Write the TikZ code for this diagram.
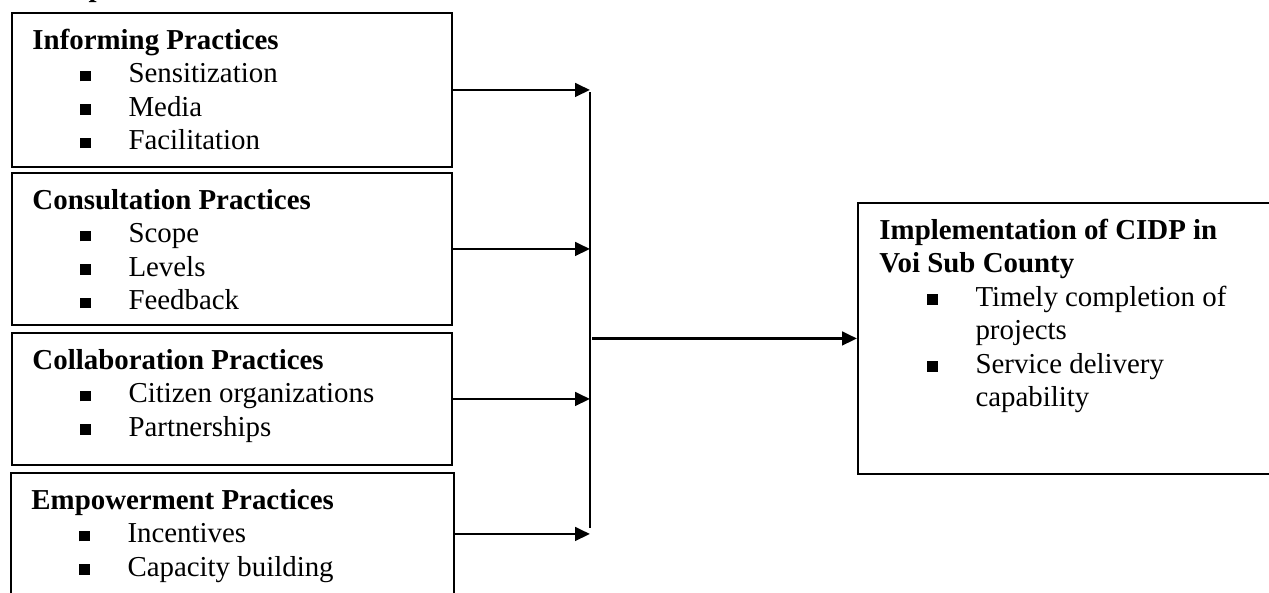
\documentclass[tikz,border=0pt]{standalone}
\usepackage{fontspec}
\setmainfont{Liberation Serif}
\usetikzlibrary{arrows.meta}

\newcommand{\itm}{\makebox[39.9pt][l]{\hspace*{19.9pt}\raisebox{0.6pt}{\rule{4.3pt}{4.3pt}}}}
\newcommand{\cont}{\hspace*{39.9pt}}

\begin{document}
\begin{tikzpicture}[x=0.0146cm, y=-0.0146cm,
  pbox/.style={draw=black, line width=0.8pt, inner sep=0pt, anchor=north west},
  ptext/.style={align=left, anchor=north west, inner sep=0pt, font=\fontsize{12}{13.9}\selectfont},
  flow/.style={line width=1.2pt, -{Triangle[length=6.2pt, width=5.6pt]}}]
\useasboundingbox (0,0) rectangle (1269,592);

% heading above the boxes, cut off by the page
\node[ptext, anchor=base west] (vartitle) at (32,-3.3) {\textbf{Independent Variables}};

% left boxes
\node[pbox, minimum width=6.424cm, minimum height=2.248cm] (inform) at (11,12) {};
\node[ptext] (informtxt) at (32,25.4) {\strut\textbf{Informing Practices}\\
  \itm Sensitization\\ \itm Media\\ \itm Facilitation};

\node[pbox, minimum width=6.424cm, minimum height=2.219cm] (consult) at (11,172) {};
\node[ptext] (consulttxt) at (32,185.4) {\strut\textbf{Consultation Practices}\\
  \itm Scope\\ \itm Levels\\ \itm Feedback};

\node[pbox, minimum width=6.424cm, minimum height=1.927cm] (collab) at (11,332) {};
\node[ptext] (collabtxt) at (32,345.4) {\strut\textbf{Collaboration Practices}\\
  \itm Citizen organizations\\ \itm Partnerships};

\node[pbox, minimum width=6.468cm, minimum height=1.781cm] (empower) at (10,472) {};
\node[ptext] (empowertxt) at (31,485.4) {\strut\textbf{Empowerment Practices}\\
  \itm Incentives\\ \itm Capacity building};

% right box
\node[pbox, minimum width=6.103cm, minimum height=3.957cm] (cidp) at (857,202) {};
\node[ptext] (cidptxt) at (879,215.4) {\strut\textbf{Implementation of CIDP in}\\
  \textbf{Voi Sub County}\\ \itm Timely completion of\\ \cont projects\\
  \itm Service delivery\\ \cont capability};

% connectors
\coordinate (bartop) at (590,92);
\coordinate (barbot) at (590,528);
\coordinate (join) at (cidp.west -| bartop);
\draw[line width=1.2pt] (bartop) -- (barbot);
\foreach \n in {inform,consult,collab,empower}
  \draw[flow] (\n.east) -- (\n.east -| join);
\draw[flow] ([xshift=1pt]join) -- (cidp.west);
\end{tikzpicture}
\end{document}
